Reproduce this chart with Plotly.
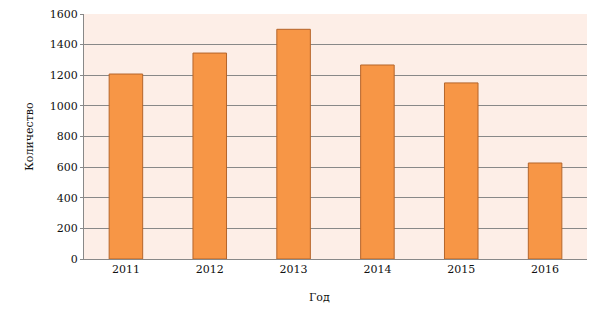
import plotly.graph_objects as go

years = ["2011", "2012", "2013", "2014", "2015", "2016"]
counts = [1208, 1345, 1500, 1267, 1150, 627]
y_ticks = [0, 200, 400, 600, 800, 1000, 1200, 1400, 1600]

font = "DejaVu Serif, serif"

fig = go.Figure(go.Bar(
    x=years, y=counts,
    marker=dict(color="#f79646", line=dict(color="#b5652b", width=1)),
))
fig.update_layout(
    width=600, height=322,
    margin=dict(l=84, r=13, t=14, b=63),
    paper_bgcolor="white",
    plot_bgcolor="#fdeee7",
    bargap=0.6,
    showlegend=False,
    font=dict(family=font, size=11, color="#111"),
    annotations=[dict(
        text="Год", xref="paper", yref="paper", x=0.469, y=0,
        xanchor="center", yanchor="top", yshift=-30, showarrow=False,
        font=dict(size=11),
    )],
)
fig.update_xaxes(
    type="category", automargin=False,
    showline=True, linecolor="#888", linewidth=1,
    showgrid=False,
    ticks="", tickfont=dict(size=11),
)
fig.update_yaxes(
    range=[0, 1600], tickvals=y_ticks, automargin=False,
    showline=True, linecolor="#888", linewidth=1,
    gridcolor="#888", gridwidth=1,
    zeroline=False,
    ticks="outside", ticklen=3, tickcolor="#888",
    tickfont=dict(size=11),
    title=dict(text="Количество", font=dict(size=11), standoff=13),
)
fig.write_html("out.html")
